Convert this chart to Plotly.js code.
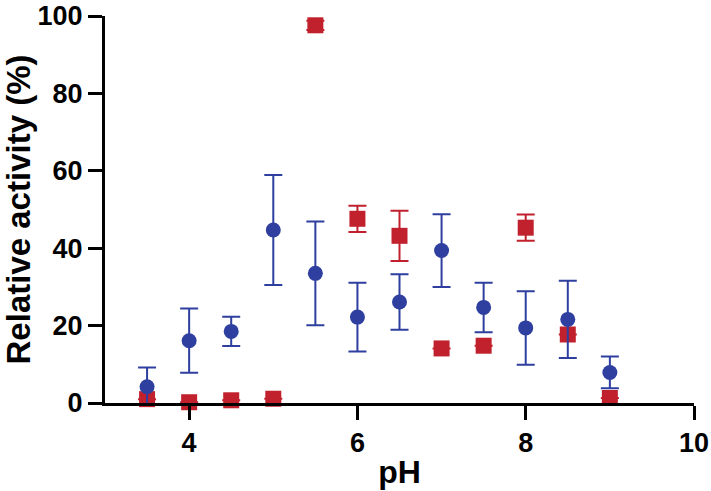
<!DOCTYPE html>
<html>
<head>
<meta charset="utf-8">
<script src="https://cdn.plot.ly/plotly-3.0.1.min.js"></script>
<style>html,body{margin:0;padding:0;background:#fff;}#chart{width:711px;height:491px;}</style>
</head>
<body>
<div id="chart"></div>
<script>
const pH = [3.5, 4.0, 4.5, 5.0, 5.5, 6.0, 6.5, 7.0, 7.5, 8.0, 8.5, 9.0];
const blueMean = [4.2, 16.1, 18.5, 44.7, 33.5, 22.2, 26.1, 39.4, 24.7, 19.4, 21.6, 7.9];
const blueErr  = [5.0, 8.3, 3.8, 14.2, 13.4, 8.9, 7.2, 9.4, 6.4, 9.5, 10.0, 4.1];
const redMean  = [1.0, 0.2, 0.7, 1.1, 97.6, 47.6, 43.2, 14.1, 14.8, 45.3, 17.7, 1.3];
const redErr   = [0, 0, 0, 0, 1.2, 3.4, 6.5, 0, 0, 3.4, 0, 0];
const xTicks = [4, 6, 8, 10];
const yTicks = [0, 20, 40, 60, 80, 100];

const blue = '#2E3F9F';
const red = '#C0212D';
const font = 'Arial, "Liberation Sans", sans-serif';

const traces = [
  {
    x: pH, y: redMean, type: 'scatter', mode: 'markers',
    marker: {symbol: 'square', size: 16, color: red},
    error_y: {type: 'data', array: redErr, visible: true, color: red, thickness: 2, width: 9},
    cliponaxis: false, showlegend: false
  },
  {
    x: pH, y: blueMean, type: 'scatter', mode: 'markers',
    marker: {symbol: 'circle', size: 15, color: blue},
    error_y: {type: 'data', array: blueErr, visible: true, color: blue, thickness: 2, width: 9},
    cliponaxis: false, showlegend: false
  }
];

const layout = {
  width: 711, height: 491,
  margin: {l: 105, r: 17, t: 16, b: 88},
  paper_bgcolor: '#fff', plot_bgcolor: '#fff',
  font: {family: font, color: '#000'},
  xaxis: {
    range: [3, 10], tickvals: xTicks, ticktext: xTicks.map(String),
    showgrid: false, zeroline: false, showline: true, linewidth: 3, linecolor: '#000',
    ticks: 'outside', ticklen: 14, tickwidth: 3, tickcolor: '#000',
    ticklabeloverflow: 'allow',
    tickfont: {family: font, size: 27, color: '#000', weight: 'bold'},
    title: {text: '<b>pH</b>', font: {family: font, size: 32, color: '#000'}, standoff: 4}
  },
  yaxis: {
    range: [0, 100], tickvals: yTicks, ticktext: yTicks.map(String),
    showgrid: false, zeroline: false, showline: true, linewidth: 3, linecolor: '#000',
    ticks: 'outside', ticklen: 14, tickwidth: 3, tickcolor: '#000',
    ticklabeloverflow: 'allow',
    tickfont: {family: font, size: 27, color: '#000', weight: 'bold'},
    title: {text: '<b>Relative activity (%)</b>', font: {family: font, size: 33, color: '#000'}, standoff: 3}
  }
};

Plotly.newPlot('chart', traces, layout, {staticPlot: true, displayModeBar: false});
</script>
</body>
</html>
